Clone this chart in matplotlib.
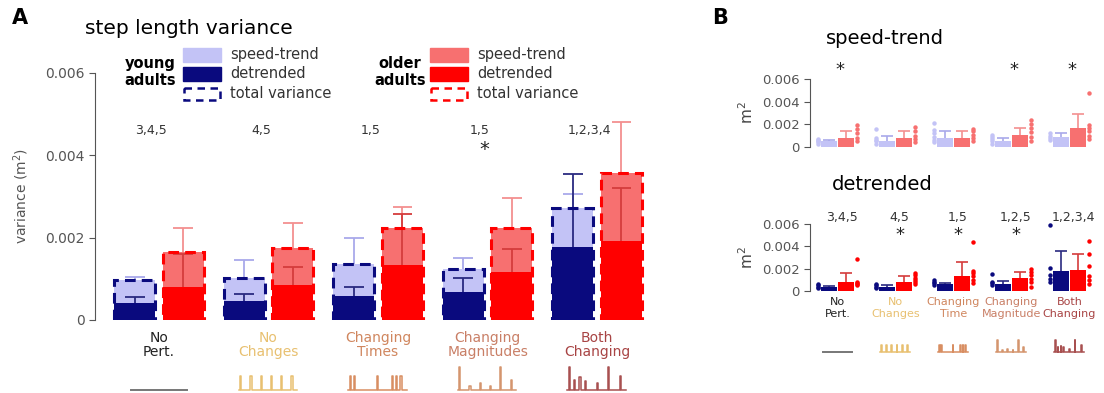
import numpy as np
import matplotlib
matplotlib.use('Agg')
import matplotlib.pyplot as plt
from matplotlib.patches import Rectangle

plt.rcParams['font.family'] = ['DejaVu Sans']

# ---- data ----
groups = ['No\nPert.', 'No\nChanges', 'Changing\nTimes', 'Changing\nMagnitudes', 'Both\nChanging']
groups_b = ['No\nPert.', 'No\nChanges', 'Changing\nTime', 'Changing\nMagnitude', 'Both\nChanging']
group_colors = ['#222222', '#e8c070', '#d0865e', '#c97f66', '#a84444']
icon_colors = ['#777777', '#e8c070', '#d88e62', '#d4956e', '#a85050']

# panel A (group means)
young_total = [0.00097, 0.00102, 0.00136, 0.00124, 0.00272]
young_det = [0.00041, 0.00046, 0.00058, 0.00068, 0.00178]
young_det_err = [0.00015, 0.00017, 0.00022, 0.00034, 0.00177]
young_total_err = [0.00008, 0.00044, 0.00064, 0.00026, 0.00034]
older_total = [0.00165, 0.00175, 0.00224, 0.00224, 0.00357]
older_det = [0.00080, 0.00085, 0.00134, 0.00117, 0.00193]
older_det_err = [0.00080, 0.00044, 0.00124, 0.00055, 0.00127]
older_total_err = [0.00059, 0.00061, 0.00051, 0.00072, 0.00124]
post_hoc_a = ['3,4,5', '4,5', '1,5', '1,5', '1,2,3,4']
star_a = [False, False, False, True, False]

# panel B speed-trend
st_young = [0.00053, 0.00053, 0.00075, 0.00053, 0.00085]
st_young_err = [0.00007, 0.00044, 0.00065, 0.00022, 0.00040]
st_older = [0.00082, 0.00082, 0.00082, 0.00106, 0.00167]
st_older_err = [0.00058, 0.00058, 0.00058, 0.00064, 0.00123]
st_young_pts = [[0.0003, 0.0004, 0.0005, 0.0006, 0.0007],
                [0.0003, 0.0005, 0.0006, 0.0008, 0.0016],
                [0.0004, 0.0006, 0.0009, 0.0012, 0.0015, 0.0021],
                [0.0003, 0.0005, 0.0007, 0.0009, 0.0011],
                [0.0006, 0.0008, 0.0010, 0.0012]]
st_older_pts = [[0.0005, 0.0008, 0.0012, 0.0016, 0.0019],
                [0.0004, 0.0007, 0.0010, 0.0014, 0.0018],
                [0.0005, 0.0008, 0.0011, 0.0014, 0.0016],
                [0.0005, 0.0009, 0.0013, 0.0017, 0.0020, 0.0024],
                [0.0007, 0.0010, 0.0014, 0.0017, 0.0019, 0.0048]]
star_st = [True, False, False, True, True]

# panel B detrended
dt_young = [0.00039, 0.00040, 0.00060, 0.00063, 0.00180]
dt_young_err = [0.00006, 0.00015, 0.00015, 0.00030, 0.00180]
dt_older = [0.00083, 0.00083, 0.00130, 0.00113, 0.00190]
dt_older_err = [0.00077, 0.00047, 0.00130, 0.00057, 0.00140]
dt_young_pts = [[0.0003, 0.0004, 0.0005, 0.0006],
                [0.0003, 0.0004, 0.0005, 0.0006],
                [0.0005, 0.0007, 0.0008, 0.0010],
                [0.0005, 0.0007, 0.0008, 0.0015],
                [0.0008, 0.0011, 0.0014, 0.0021, 0.0059]]
dt_older_pts = [[0.0005, 0.0006, 0.0007, 0.0008, 0.0029],
                [0.0006, 0.0008, 0.0010, 0.0012, 0.0014, 0.0016],
                [0.0007, 0.0010, 0.0013, 0.0016, 0.0018, 0.0044],
                [0.0004, 0.0008, 0.0011, 0.0014, 0.0017, 0.0020],
                [0.0006, 0.0010, 0.0013, 0.0022, 0.0033, 0.0045]]
post_hoc_b = ['3,4,5', '4,5', '1,5', '1,2,5', '1,2,3,4']
star_dt = [False, True, True, True, False]

# perturbation icons: (pulse times, pulse heights)
icons = [([], []),
         ([0.0, 0.19, 0.38, 0.57, 0.76, 0.95], [0.6] * 6),
         ([0.0, 0.08, 0.50, 0.78, 0.86, 0.94], [0.6] * 6),
         ([0.0, 0.19, 0.38, 0.57, 0.76, 0.95], [1.0, 0.2, 0.3, 0.2, 1.0, 0.45]),
         ([0.0, 0.10, 0.20, 0.30, 0.52, 0.72, 0.95], [1.0, 0.45, 0.55, 0.4, 0.3, 1.0, 0.6])]

# ---- colours ----
y_light = '#c3c3f6'
y_dark = '#0a0a7e'
o_light = '#f77070'
o_dark = '#ff0000'
y_err_dark = '#2a2a80'
y_err_light = '#a9a9ea'
o_err_dark = '#d43c3c'
o_err_light = '#f39090'

x = np.arange(len(groups))

fig = plt.figure(figsize=(11.04, 3.93), dpi=100)


def style_axis(ax, ticksize):
    for s in ['top', 'right', 'bottom']:
        ax.spines[s].set_visible(False)
    ax.spines['left'].set_color('#555555')
    ax.spines['left'].set_bounds(0, 0.006)
    ax.set_xticks([])
    ax.set_ylim(0, 0.006)
    ax.set_yticks([0, 0.002, 0.004, 0.006])
    ax.set_yticklabels(['0', '0.002', '0.004', '0.006'])
    ax.tick_params(axis='y', colors='#555555', labelsize=ticksize, length=4)
    ax.patch.set_alpha(0)


def err_lines(ax, xs, base, err, color, cw, lw):
    tops = np.array(base) + np.array(err)
    ax.vlines(xs, base, tops, color=color, lw=lw)
    ax.hlines(tops, xs - cw, xs + cw, color=color, lw=lw)


def draw_icons(ax, color_list, xs, width):
    for i, (t, h) in enumerate(icons):
        c = color_list[i]
        left = xs[i] - width / 2
        if len(t) == 0:
            ax.plot([left, left + width], [0, 0], color=c, lw=1.4)
            continue
        pw = 0.022 * width
        px, py = [left - 0.02 * width], [0]
        for ti, hi in zip(t, h):
            t0 = left + ti * width * 0.95
            px += [t0, t0, t0 + pw, t0 + pw]
            py += [0, hi, hi, 0]
        px.append(left + width)
        py.append(0)
        ax.plot(px, py, color=c, lw=1.1)


# ---- panel A ----
axA = fig.add_axes([0.0861, 0.1858, 0.5118, 0.6285])
axA.set_xlim(-0.584, 4.575)
style_axis(axA, 10)
bw = 0.375
off = 0.222
xy = x - off
xo = x + off
axA.bar(xy, young_total, bw, color=y_light, zorder=1)
axA.bar(xy, young_det, bw, color=y_dark, zorder=2)
axA.bar(xy, young_total, bw, fill=False, edgecolor=y_dark, lw=2.2,
        linestyle=(0, (3.5, 2)), zorder=4)
axA.bar(xo, older_total, bw, color=o_light, zorder=1)
axA.bar(xo, older_det, bw, color=o_dark, zorder=2)
axA.bar(xo, older_total, bw, fill=False, edgecolor=o_dark, lw=2.2,
        linestyle=(0, (3.5, 2)), zorder=4)
err_lines(axA, xy, young_total, young_total_err, y_err_light, 0.09, 1.3)
err_lines(axA, xy, young_det, young_det_err, y_err_dark, 0.09, 1.3)
err_lines(axA, xo, older_total, older_total_err, o_err_light, 0.09, 1.3)
err_lines(axA, xo, older_det, older_det_err, o_err_dark, 0.09, 1.3)
for i in range(len(groups)):
    axA.text(x[i] - 0.07, 0.0046, post_hoc_a[i], ha='center', va='center',
             fontsize=9, color='#333333')
    if star_a[i]:
        axA.text(x[i] - 0.03, 0.00415, '*', ha='center', va='center',
                 fontsize=14, color='#222222')
    axA.text(x[i], -0.0006, groups[i], ha='center', va='center', fontsize=10,
             color=group_colors[i], linespacing=1.0, clip_on=False)
axA.set_ylabel('variance (m$^2$)', fontsize=10, color='#555555', labelpad=10)

iconA = fig.add_axes([0.0861, 0.004, 0.5118, 0.068])
iconA.set_xlim(-0.584, 4.575)
iconA.set_ylim(-0.05, 1.1)
iconA.axis('off')
draw_icons(iconA, icon_colors, x, 0.52)

# ---- panel B ----
def panel_b(rect, ylo, yhi, yerr_lo, yerr_hi, y_pts, o_pts, c_lo, c_hi, e_lo, e_hi):
    ax = fig.add_axes(rect)
    ax.set_xlim(-0.474, 4.526)
    style_axis(ax, 9.5)
    bwb = 0.27
    offb = 0.15
    ax.bar(x - offb, ylo, bwb, color=c_lo, zorder=2)
    ax.bar(x + offb, yhi, bwb, color=c_hi, zorder=2)
    err_lines(ax, x - offb, ylo, yerr_lo, e_lo, 0.1, 1.2)
    err_lines(ax, x + offb, yhi, yerr_hi, e_hi, 0.1, 1.2)
    for i in range(len(groups)):
        ax.plot([x[i] - 0.34] * len(y_pts[i]), y_pts[i], 'o', ms=3.2,
                color=c_lo, mec='none', zorder=3, clip_on=False)
        ax.plot([x[i] + 0.34] * len(o_pts[i]), o_pts[i], 'o', ms=3.2,
                color=c_hi, mec='none', zorder=3, clip_on=False)
    ax.set_ylabel('m$^2$', fontsize=11, color='#444444', labelpad=4)
    return ax


axB1 = panel_b([0.7337, 0.626, 0.2627, 0.173], st_young, st_older, st_young_err,
               st_older_err, st_young_pts, st_older_pts, y_light, o_light,
               y_err_light, o_err_light)
axB2 = panel_b([0.7337, 0.2595, 0.2627, 0.1705], dt_young, dt_older, dt_young_err,
               dt_older_err, dt_young_pts, dt_older_pts, y_dark, o_dark,
               y_err_dark, o_err_dark)
for i in range(len(groups)):
    if star_st[i]:
        axB1.text(x[i] + 0.05, 0.0068, '*', ha='center', va='center',
                  fontsize=13, color='#222222', clip_on=False)
    axB2.text(x[i] + 0.07, 0.0066, post_hoc_b[i], ha='center', va='center',
              fontsize=9, color='#333333', clip_on=False)
    if star_dt[i]:
        axB2.text(x[i] + 0.07, 0.0050, '*', ha='center', va='center',
                  fontsize=13, color='#222222')
    axB2.text(x[i], -0.0015, groups_b[i], ha='center', va='center', fontsize=8,
              color=group_colors[i], linespacing=1.2, clip_on=False)

iconB = fig.add_axes([0.7337, 0.102, 0.2627, 0.036])
iconB.set_xlim(-0.474, 4.526)
iconB.set_ylim(-0.05, 1.1)
iconB.axis('off')
draw_icons(iconB, icon_colors, x, 0.5)

# ---- titles, legend, panel letters ----
ov = fig.add_axes([0, 0, 1, 1])
ov.set_xlim(0, 1104)
ov.set_ylim(393, 0)
ov.axis('off')
ov.patch.set_alpha(0)
ov.text(12, 18, 'A', fontsize=15, fontweight='bold', va='center')
ov.text(712, 18, 'B', fontsize=15, fontweight='bold', va='center')
ov.text(85, 28, 'step length variance', fontsize=14.5, va='center')
ov.text(885, 38, 'speed-trend', fontsize=14, va='center', ha='center')
ov.text(882, 185, 'detrended', fontsize=14, va='center', ha='center')

for lx, tx, label, light, dark in [(183, 150, 'young\nadults', y_light, y_dark),
                                   (430, 400, 'older\nadults', o_light, o_dark)]:
    ov.text(tx, 72, label, ha='center', va='center', fontsize=10.5,
            fontweight='semibold', linespacing=1.1)
    ov.add_patch(Rectangle((lx, 48), 38, 14, color=light))
    ov.add_patch(Rectangle((lx, 67), 38, 14, color=dark))
    ov.add_patch(Rectangle((lx + 1, 88), 36, 12, fill=False, edgecolor=dark,
                           lw=1.8, linestyle=(0, (3, 2.2))))
    ov.text(lx + 47, 54, 'speed-trend', fontsize=10.5, va='center', color='#333333')
    ov.text(lx + 47, 74, 'detrended', fontsize=10.5, va='center', color='#333333')
    ov.text(lx + 47, 94, 'total variance', fontsize=10.5, va='center', color='#333333')

fig.savefig('out.png', dpi=100)
